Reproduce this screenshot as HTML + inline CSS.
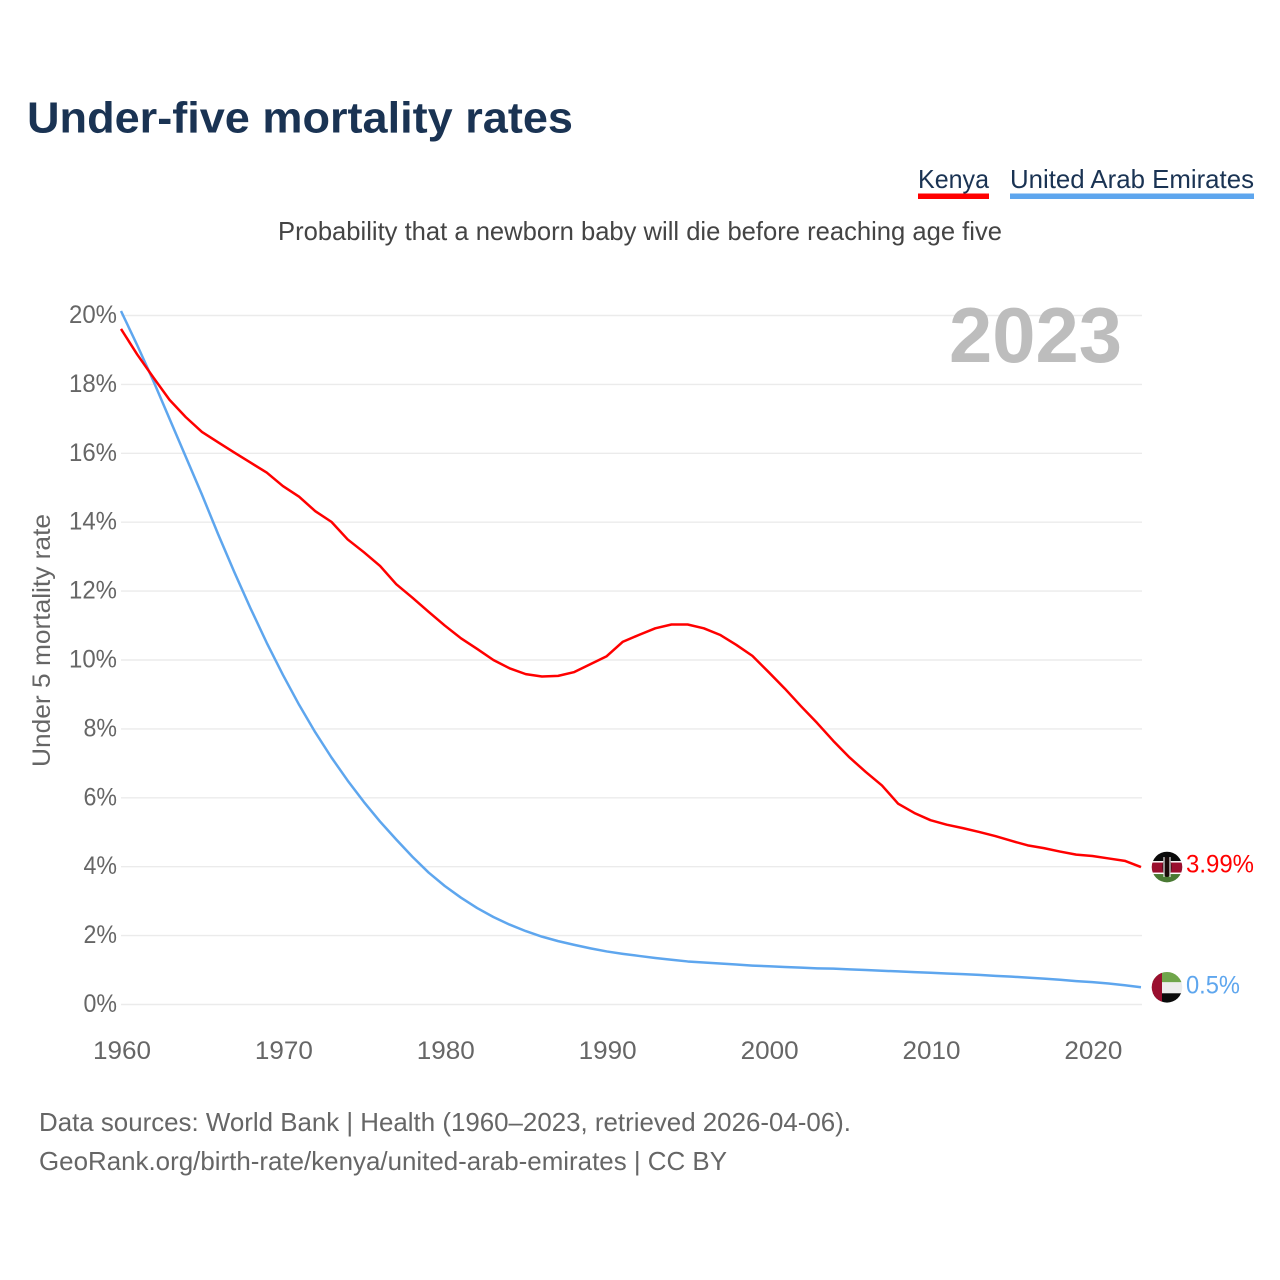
<!DOCTYPE html>
<html lang="en">
<head>
<meta charset="utf-8">
<title>Under-five mortality rates</title>
<style>
html,body{margin:0;padding:0;background:#fff;width:1280px;height:1280px;overflow:hidden}
svg{display:block}
text{font-family:"Liberation Sans",sans-serif}
</style>
</head>
<body>
<svg id="chart" xmlns="http://www.w3.org/2000/svg" width="1280" height="1280" viewBox="0 0 1280 1280">
  <defs>
    <clipPath id="flag-clip"><circle cx="0" cy="0" r="15.3"/></clipPath>
  </defs>
  <text x="27" y="132.5" font-size="44" font-weight="700" fill="#1a3353" textLength="546" lengthAdjust="spacingAndGlyphs">Under-five mortality rates</text>

  <g>
    <text x="918" y="188" font-size="26" fill="#1a3353" textLength="71" lengthAdjust="spacingAndGlyphs">Kenya</text>
    <rect x="918" y="193.5" width="71" height="5.5" fill="#ff0000"/>
  </g>
  <g>
    <text x="1010" y="188" font-size="26" fill="#1a3353" textLength="244" lengthAdjust="spacingAndGlyphs">United Arab Emirates</text>
    <rect x="1010" y="193.5" width="244" height="5.5" fill="#5ea6ee"/>
  </g>

  <text x="278" y="240" font-size="26" fill="#444" textLength="724" lengthAdjust="spacingAndGlyphs">Probability that a newborn baby will die before reaching age five</text>

  <g id="grid"></g>
  <g id="yticks"></g>
  <g id="xticks"></g>

  <text x="0" y="0" transform="translate(50,640.5) rotate(-90)" text-anchor="middle" font-size="25" fill="#666" textLength="253" lengthAdjust="spacingAndGlyphs">Under 5 mortality rate</text>

  <text x="949" y="362" font-size="78" font-weight="700" fill="#bdbdbd" textLength="173" lengthAdjust="spacingAndGlyphs">2023</text>

  <path id="line-uae" fill="none" stroke="#5ea6ee" stroke-width="2.5" stroke-linejoin="round"/>
  <path id="line-kenya" fill="none" stroke="#ff0000" stroke-width="2.5" stroke-linejoin="round"/>

  <g id="flag-kenya">
    <g clip-path="url(#flag-clip)">
      <rect x="-16" y="-16" width="32" height="32" fill="#fff"/>
      <rect x="-16" y="-16" width="32" height="10" fill="#0a0a0a"/>
      <rect x="-16" y="-4.5" width="32" height="10" fill="#9a0f2e"/>
      <rect x="-16" y="7" width="32" height="9" fill="#4a7a34"/>
      <ellipse cx="0" cy="0" rx="4.5" ry="10" fill="#1a0a0a"/>
      <rect x="-3.6" y="-10" width="1.2" height="20" fill="#e6e6e6"/>
      <rect x="2.4" y="-10" width="1.2" height="20" fill="#e6e6e6"/>
    </g>
  </g>
  <g id="flag-uae">
    <g clip-path="url(#flag-clip)">
      <rect x="-16" y="-16" width="32" height="11" fill="#6fa54a"/>
      <rect x="-16" y="-5" width="32" height="11" fill="#ececec"/>
      <rect x="-16" y="6" width="32" height="10" fill="#0a0a0a"/>
      <rect x="-16" y="-16" width="11" height="32" fill="#9a0f2e"/>
    </g>
  </g>
  <text id="end-kenya" x="1186" font-size="25" fill="#ff0000" textLength="68" lengthAdjust="spacingAndGlyphs"></text>
  <text id="end-uae" x="1186" font-size="25" fill="#5ea6ee" textLength="54" lengthAdjust="spacingAndGlyphs"></text>

  <text x="39" y="1131" font-size="26" fill="#666" textLength="812" lengthAdjust="spacingAndGlyphs">Data sources: World Bank | Health (1960–2023, retrieved 2026-04-06).</text>
  <text x="39" y="1170" font-size="26" fill="#666" textLength="688" lengthAdjust="spacingAndGlyphs">GeoRank.org/birth-rate/kenya/united-arab-emirates | CC BY</text>
</svg>
<script>
const startYear = 1960;
const yTicks = [0, 2, 4, 6, 8, 10, 12, 14, 16, 18, 20];
const xTicks = [1960, 1970, 1980, 1990, 2000, 2010, 2020];
const kenya = [
  19.61, 18.87, 18.2, 17.55, 17.05, 16.62, 16.32, 16.02, 15.73, 15.44,
  15.05, 14.74, 14.32, 14.01, 13.5, 13.13, 12.73, 12.2, 11.81, 11.4,
  11.0, 10.63, 10.32, 10.0, 9.76, 9.59, 9.52, 9.54, 9.65, 9.88,
  10.11, 10.53, 10.73, 10.92, 11.03, 11.03, 10.92, 10.73, 10.44, 10.12,
  9.65, 9.17, 8.66, 8.17, 7.65, 7.17, 6.75, 6.36, 5.83, 5.56,
  5.35, 5.22, 5.12, 5.01, 4.89, 4.75, 4.62, 4.54, 4.44, 4.35,
  4.31, 4.24, 4.17, 3.99
];
const uae = [
  20.13, 19.14, 18.1, 17.0, 15.9, 14.8, 13.65, 12.55, 11.5, 10.5,
  9.57, 8.7, 7.9, 7.17, 6.5, 5.88, 5.31, 4.79, 4.29, 3.83,
  3.44, 3.1, 2.8, 2.54, 2.32, 2.13, 1.97, 1.84, 1.73, 1.63,
  1.54, 1.47, 1.41, 1.35, 1.3, 1.25, 1.22, 1.19, 1.16, 1.13,
  1.11, 1.09, 1.07, 1.05, 1.04, 1.02, 1.0, 0.98, 0.96, 0.94,
  0.92, 0.9, 0.88, 0.86, 0.83, 0.81, 0.78, 0.75, 0.72, 0.68,
  0.65, 0.61, 0.56, 0.5
];

const NS = 'http://www.w3.org/2000/svg';
function xScale(year) { return 121 + (year - 1960) * 16.19; }
function yScale(v) { return 1004.5 - v * 34.45; }
function linePath(values) {
  return values.map(function (v, i) {
    return (i ? 'L' : 'M') + xScale(startYear + i).toFixed(2) + ' ' + yScale(v).toFixed(2);
  }).join(' ');
}

const grid = document.getElementById('grid');
const yGroup = document.getElementById('yticks');
const xGroup = document.getElementById('xticks');

yTicks.forEach(function (t) {
  const ln = document.createElementNS(NS, 'line');
  
  
  ln.setAttribute('x1', 121);
  ln.setAttribute('x2', 1142);
  ln.setAttribute('y1', yScale(t));
  ln.setAttribute('y2', yScale(t));
  ln.setAttribute('stroke', '#ebebeb');
  ln.setAttribute('stroke-width', '1.4');
  grid.appendChild(ln);

  const label = document.createElementNS(NS, 'text');
  
  
  const str = t + '%';
  label.setAttribute('x', 117 - ((str.length - 1) * 14.5 + 19));
  label.setAttribute('y', yScale(t) + 7.5);
  label.setAttribute('font-size', '25');
  label.setAttribute('fill', '#666');
  label.setAttribute('textLength', (str.length - 1) * 14.5 + 19);
  label.setAttribute('lengthAdjust', 'spacingAndGlyphs');
  label.textContent = str;
  yGroup.appendChild(label);
});

xTicks.forEach(function (t) {
  const label = document.createElementNS(NS, 'text');
  
  
  label.setAttribute('x', xScale(t) - 28);
  label.setAttribute('y', 1059);
  label.setAttribute('font-size', '25');
  label.setAttribute('fill', '#666');
  label.setAttribute('textLength', '58');
  label.setAttribute('lengthAdjust', 'spacingAndGlyphs');
  label.textContent = t;
  xGroup.appendChild(label);
});

document.getElementById('line-kenya').setAttribute('d', linePath(kenya));
document.getElementById('line-uae').setAttribute('d', linePath(uae));

const lastKenya = kenya[kenya.length - 1];
const lastUae = uae[uae.length - 1];
document.getElementById('flag-kenya').setAttribute('transform', 'translate(1167,' + yScale(lastKenya) + ')');
document.getElementById('flag-uae').setAttribute('transform', 'translate(1167,' + yScale(lastUae) + ')');
const endKenya = document.getElementById('end-kenya');
endKenya.setAttribute('y', yScale(lastKenya) + 5.5);
endKenya.textContent = lastKenya + '%';
const endUae = document.getElementById('end-uae');
endUae.setAttribute('y', yScale(lastUae) + 6);
endUae.textContent = lastUae + '%';
</script>
</body>
</html>
